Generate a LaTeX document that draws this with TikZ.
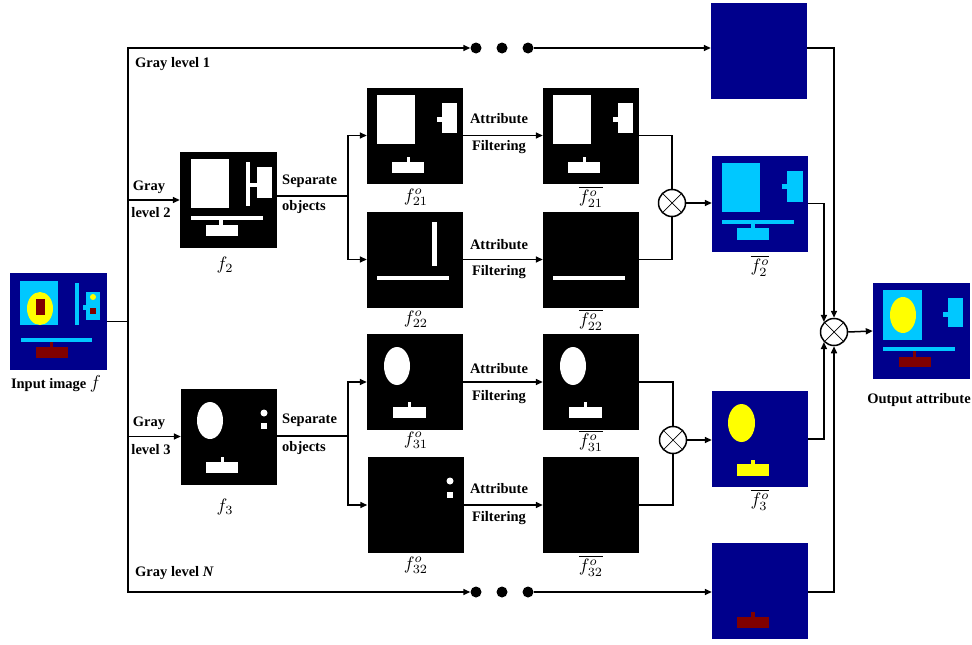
\documentclass[tikz,border=0pt]{standalone}
\usepackage{fontspec}
\setmainfont{Liberation Serif}
\usetikzlibrary{arrows.meta,calc}
\definecolor{navy}{RGB}{0,0,140}
\definecolor{cyanc}{RGB}{0,200,255}
\definecolor{yel}{RGB}{255,255,0}
\definecolor{dred}{RGB}{128,0,0}
\tikzset{
  line/.style={line width=1.5pt},
  arr/.style={line width=1.5pt,-{Triangle[length=7pt,width=6pt]}},
  img/.style={rectangle,inner sep=0,minimum width=96pt,minimum height=96pt,draw=none},
  dot/.style={circle,fill=black,inner sep=0,minimum size=11pt},
  mult/.style={circle,draw,line width=1.5pt,minimum size=27pt,inner sep=0,fill=white,
    path picture={\draw[line width=0.7pt] (path picture bounding box.north west) -- (path picture bounding box.south east)
      (path picture bounding box.north east) -- (path picture bounding box.south west);}},
  lbl/.style={font=\bfseries\fontsize{14.5}{16}\selectfont,inner sep=0},
  mlbl/.style={inner sep=0,scale=1.8}
}
\begin{document}
\begin{tikzpicture}[x=1pt,y=-1pt]
\useasboundingbox (0,0) rectangle (972,645);

% ---------- image nodes ----------
\node[img,fill=navy,minimum width=97pt,minimum height=97pt] (in) at (58.5,321.5) {};
\node[img,fill=black,minimum width=97pt] (f2) at (228.5,200) {};
\node[img,fill=black] (f21) at (415,135.5) {};
\node[img,fill=black] (g21) at (591,135.5) {};
\node[img,fill=black] (f22) at (415,259.5) {};
\node[img,fill=black] (g22) at (591,259.5) {};
\node[img,fill=black] (f3) at (229,436.5) {};
\node[img,fill=black] (f31) at (415,382) {};
\node[img,fill=black] (g31) at (591,382) {};
\node[img,fill=black] (f32) at (415.5,505) {};
\node[img,fill=black] (g32) at (591,505) {};
\node[img,fill=navy] (o1) at (759,50.5) {};
\node[img,fill=navy] (o2) at (760,203.5) {};
\node[img,fill=navy] (o3) at (760,439) {};
\node[img,fill=navy] (oN) at (760,591) {};
\node[img,fill=navy,minimum width=97pt] (out) at (921.5,331) {};

% ---------- image contents ----------
% input image
\fill[cyanc] (20,281) rectangle (58,325);
\fill[yel] (40,308.5) ellipse [x radius=13, y radius=16.5];
\fill[dred] (36,299) rectangle (45,315);
\fill[cyanc] (75,283) rectangle (79,325);
\fill[cyanc] (86,292) rectangle (100,320);
\fill[cyanc] (83,305) rectangle (86,310);
\fill[yel] (93,297) circle (3);
\fill[dred] (90,308) rectangle (96,314);
\fill[cyanc] (21,338) rectangle (92,342);
\fill[dred] (36,347) rectangle (68,358);
\fill[dred] (50,342) rectangle (53,347);
% f2
\fill[white] (191,159) rectangle (229,208);
\fill[white] (246,162) rectangle (250,206);
\fill[white] (257,167) rectangle (272,198);
\fill[white] (250,183) rectangle (257,187);
\fill[white] (191,216) rectangle (263,220);
\fill[white] (206,225) rectangle (238,236);
\fill[white] (219,220) rectangle (223,225);
% f21 and filtered
\foreach \s in {0,176}{
\begin{scope}[shift={(\s,0)}]
\fill[white] (377,95) rectangle (415,144);
\fill[white] (442,103) rectangle (457,133);
\fill[white] (437,117) rectangle (442,122);
\fill[white] (392,162) rectangle (424,173);
\fill[white] (407,157) rectangle (410,162);
\end{scope}}
% f22
\fill[white] (432,222) rectangle (437,266);
\fill[white] (377,276) rectangle (449,280);
\fill[white] (553,276) rectangle (625,280);
% f3
\fill[white] (210,420.5) ellipse [x radius=13, y radius=18.5];
\fill[white] (264,413) circle (3.5);
\fill[white] (261,423) rectangle (267,429);
\fill[white] (206,462) rectangle (238,473);
\fill[white] (221,457) rectangle (224,462);
% f31 and filtered
\foreach \s in {0,176}{
\begin{scope}[shift={(\s,0)}]
\fill[white] (397,366) ellipse [x radius=13, y radius=19];
\fill[white] (393,407) rectangle (426,418);
\fill[white] (408,402) rectangle (411,407);
\end{scope}}
% f32
\fill[white] (450,481) circle (3.5);
\fill[white] (447,492) rectangle (453,498);
% o2
\fill[cyanc] (722,163) rectangle (760,212);
\fill[cyanc] (787,171) rectangle (803,202);
\fill[cyanc] (782,184) rectangle (787,189);
\fill[cyanc] (722,220) rectangle (794,224);
\fill[cyanc] (737,228) rectangle (769,240);
\fill[cyanc] (751,224) rectangle (755,228);
% o3
\fill[yel] (741.5,423) ellipse [x radius=13.5, y radius=19];
\fill[yel] (737,464) rectangle (769,476);
\fill[yel] (751,460) rectangle (755,464);
% oN
\fill[dred] (737,617) rectangle (769,628);
\fill[dred] (751,612) rectangle (755,617);
% output
\fill[cyanc] (883,290) rectangle (922,340);
\fill[yel] (903,315) ellipse [x radius=13, y radius=18];
\fill[cyanc] (948,298) rectangle (963,327);
\fill[cyanc] (943,312) rectangle (948,317);
\fill[cyanc] (883,347) rectangle (955,351);
\fill[dred] (899,357) rectangle (931,367);
\fill[dred] (913,351) rectangle (916,357);

% ---------- dots, multipliers, coordinates ----------
\node[dot] (d1) at (476,48) {};
\node[dot] (d2) at (502,48) {};
\node[dot] (d3) at (528,48) {};
\node[dot] (e1) at (476,592) {};
\node[dot] (e2) at (502,592) {};
\node[dot] (e3) at (528,592) {};
\node[mult] (m2) at (672,203) {};
\node[mult] (m3) at (673,440) {};
\node[mult] (M) at (834,332) {};
\coordinate (t1) at (128,48);
\coordinate (tN) at (128,592);
\coordinate (s2) at (348,196);
\coordinate (s3) at (348,436);

% ---------- connectors ----------
\draw[arr] (tN) -- (t1) -- (d1);
\draw[arr] (t1) -- (tN) -- (e1);
\draw[line] (in.east) -- (in.east -| t1);
\draw[arr] (d3) -- (o1.west |- d3);
\draw[arr] (e3) -- (oN.west |- e3);
\draw[arr] (f2.west -| t1) -- (f2.west);
\draw[arr] (f3.west -| t1) -- (f3.west);
\draw[line] (f2.east |- s2) -- (s2);
\draw[line] (f3.east |- s3) -- (s3);
\draw[arr] (s2) |- (f21.west);
\draw[arr] (s2) |- (f22.west);
\draw[arr] (s3) |- (f31.west);
\draw[arr] (s3) |- (f32.west);
\draw[arr] (f21) -- (g21);
\draw[arr] (f22) -- (g22);
\draw[arr] (f31) -- (g31);
\draw[arr] (f32) -- (g32);
\draw[line] (g21.east) -| (m2.north);
\draw[line] (g22.east) -| (m2.south);
\draw[line] (g31.east) -| (m3.north);
\draw[line] (g32.east) -| (m3.south);
\draw[arr] (m2.east) -- (o2.west |- m2);
\draw[arr] (m3.east) -- (o3.west |- m3);
\draw[arr] (o1.east |- d3) -| (M.north);
\draw[arr] (o2.east) -| (M.north west);
\draw[arr] (o3.east) -| (M.south west);
\draw[arr] (oN.east |- e3) -| (M.south);
\draw[arr] (M.east) -- (out.west);

% ---------- text labels ----------
\node[lbl] (tin) at (56,384) {Input image \scalebox{1.3}{$f$}};
\node[lbl,anchor=west] (tg1) at (135,64) {Gray level 1};
\node[lbl] (tg2a) at (149,187) {Gray};
\node[lbl] (tg2b) at (151,213) {level 2};
\node[lbl,anchor=west] (ts2a) at (282,181) {Separate};
\node[lbl,anchor=west] (ts2b) at (282,207) {objects};
\node[lbl] (ta21) at (499,119) {Attribute};
\node[lbl] (tb21) at (499,147) {Filtering};
\node[lbl] (ta22) at (499,245) {Attribute};
\node[lbl] (tb22) at (499,272) {Filtering};
\node[lbl] (tg3a) at (149,423) {Gray};
\node[lbl] (tg3b) at (151,450) {level 3};
\node[lbl,anchor=west] (ts3a) at (282,420) {Separate};
\node[lbl,anchor=west] (ts3b) at (282,448) {objects};
\node[lbl] (ta31) at (499,369) {Attribute};
\node[lbl] (tb31) at (499,397) {Filtering};
\node[lbl] (ta32) at (499,489) {Attribute};
\node[lbl] (tb32) at (499,518) {Filtering};
\node[lbl,anchor=west] (tgN) at (135,573) {Gray level \textit{N}};
\node[lbl] (tout) at (919,400) {Output attribute};

\node[mlbl] (lf2) at (225,265) {$f_2$};
\node[mlbl] (lf3) at (225,507) {$f_3$};
\node[mlbl] (lf21) at (416,197) {$f^o_{21}$};
\node[mlbl] (lg21) at (591,197) {$\overline{f^o_{21}}$};
\node[mlbl] (lf22) at (416,319) {$f^o_{22}$};
\node[mlbl] (lg22) at (591,320) {$\overline{f^o_{22}}$};
\node[mlbl] (lf31) at (416,440) {$f^o_{31}$};
\node[mlbl] (lg31) at (591,441) {$\overline{f^o_{31}}$};
\node[mlbl] (lf32) at (416,565) {$f^o_{32}$};
\node[mlbl] (lg32) at (591,566) {$\overline{f^o_{32}}$};
\node[mlbl] (lo2) at (760,266) {$\overline{f^o_{2}}$};
\node[mlbl] (lo3) at (760,500) {$\overline{f^o_{3}}$};
\end{tikzpicture}
\end{document}
